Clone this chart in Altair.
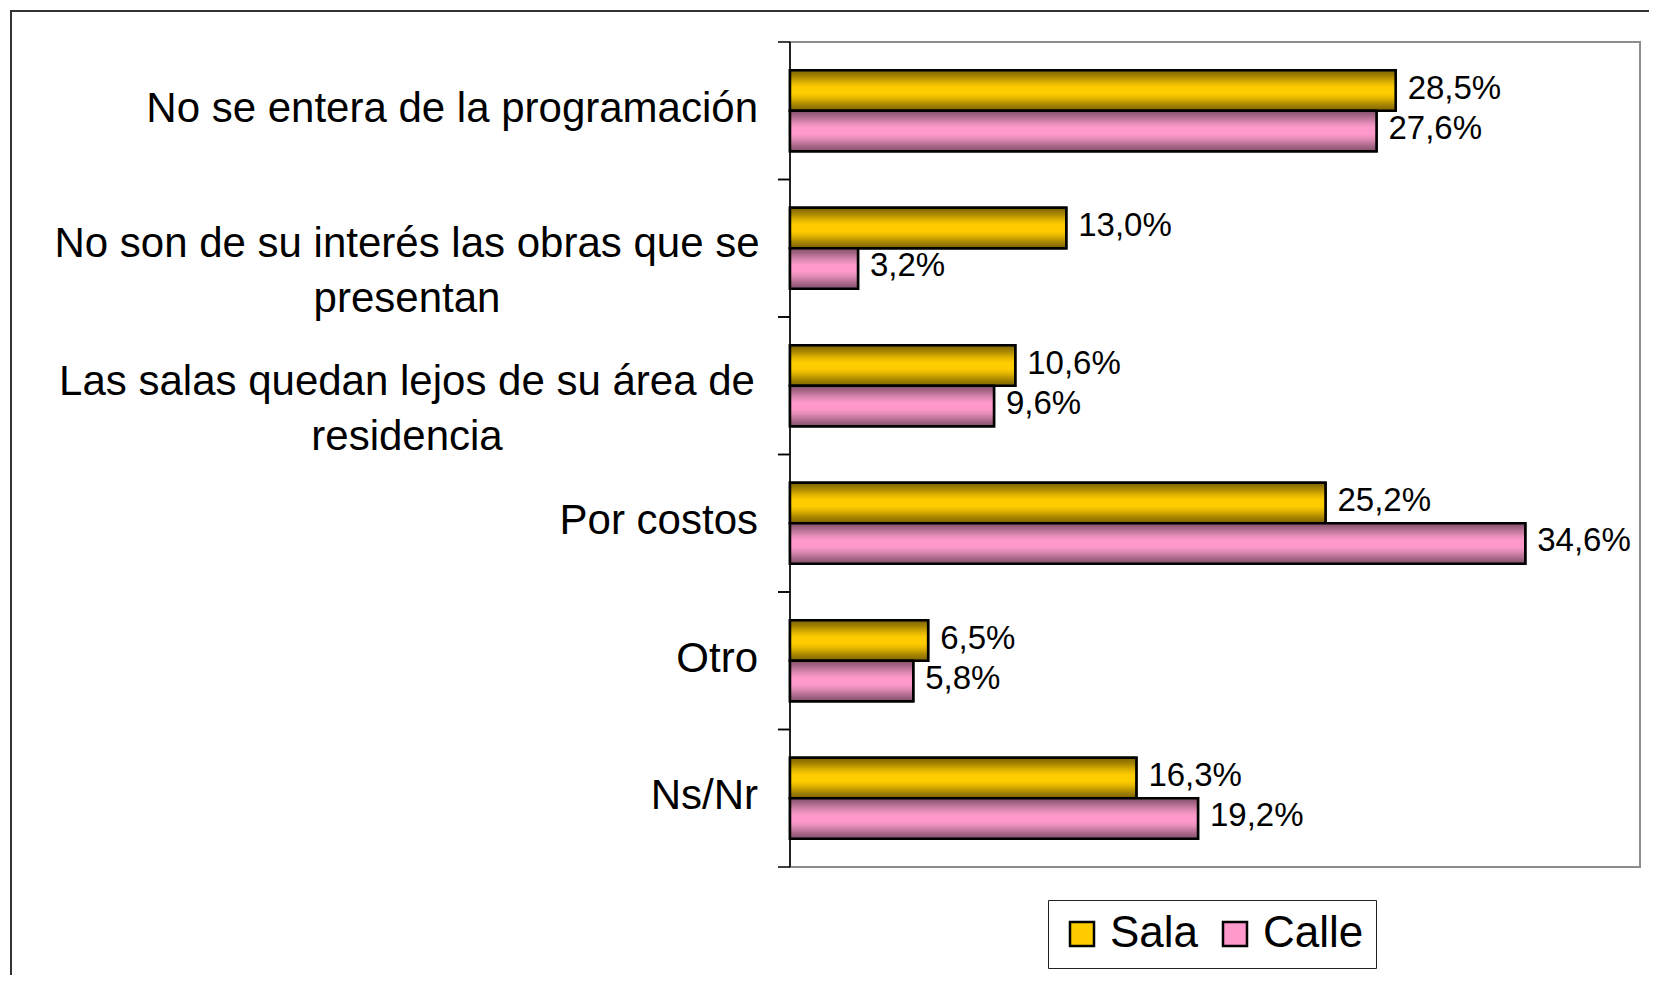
import altair as alt
import pandas as pd

categories = [
    "No se entera de la programación",
    "No son de su interés las obras que se\npresentan",
    "Las salas quedan lejos de su área de\nresidencia",
    "Por costos",
    "Otro",
    "Ns/Nr",
]
series = ["Sala", "Calle"]
sala = [28.5, 13.0, 10.6, 25.2, 6.5, 16.3]
calle = [27.6, 3.2, 9.6, 34.6, 5.8, 19.2]

rows = []
for c, s, k in zip(categories, sala, calle):
    rows.append({"cat": c, "serie": "Sala", "v": s})
    rows.append({"cat": c, "serie": "Calle", "v": k})
df = pd.DataFrame(rows)

FONT = "Liberation Sans, Arial, sans-serif"

grad_sala = alt.LinearGradient(
    gradient="linear", x1=0, x2=0, y1=0, y2=1,
    stops=[
        alt.GradientStop(offset=0.0, color="#7a6200"),
        alt.GradientStop(offset=0.15, color="#a88600"),
        alt.GradientStop(offset=0.3, color="#e0b300"),
        alt.GradientStop(offset=0.42, color="#ffcc00"),
        alt.GradientStop(offset=0.58, color="#ffcc00"),
        alt.GradientStop(offset=0.7, color="#e0b300"),
        alt.GradientStop(offset=0.85, color="#a88600"),
        alt.GradientStop(offset=1.0, color="#7a6200"),
    ],
)
grad_calle = alt.LinearGradient(
    gradient="linear", x1=0, x2=0, y1=0, y2=1,
    stops=[
        alt.GradientStop(offset=0.0, color="#80506a"),
        alt.GradientStop(offset=0.15, color="#b06b8d"),
        alt.GradientStop(offset=0.3, color="#e08bb5"),
        alt.GradientStop(offset=0.42, color="#ff99cc"),
        alt.GradientStop(offset=0.58, color="#ff99cc"),
        alt.GradientStop(offset=0.7, color="#e08bb5"),
        alt.GradientStop(offset=0.85, color="#b06b8d"),
        alt.GradientStop(offset=1.0, color="#80506a"),
    ],
)

x_enc = alt.X("v:Q", scale=alt.Scale(domain=[0, 40], nice=False, zero=True), axis=None)
y_scale = alt.Scale(paddingInner=0, paddingOuter=0)
yoff_enc = alt.YOffset("serie:N", scale=alt.Scale(domain=series, paddingInner=0, paddingOuter=0.7))
y_enc = alt.Y("cat:N", sort=categories, scale=y_scale, axis=None)

base = alt.Chart(df)

frame = alt.Chart(alt.Data(values=[{"f": 1}])).mark_rect(
    fill=None, stroke="#333333", strokeWidth=2
).encode(
    x=alt.value(-779), x2=alt.value(900), y=alt.value(-31), y2=alt.value(1000)
)

solid = base.mark_bar(stroke="black", strokeWidth=2.5).encode(
    x=x_enc,
    y=y_enc,
    yOffset=yoff_enc,
    color=alt.Color(
        "serie:N",
        scale=alt.Scale(domain=series, range=["#FFCC00", "#FF99CC"]),
        legend=alt.Legend(
            title=None,
            orient="none",
            legendX=258,
            legendY=858,
            direction="horizontal",
            symbolType="square",
            symbolSize=576,
            symbolStrokeColor="black",
            symbolStrokeWidth=2.5,
            labelFont=FONT,
            labelFontSize=44,
            labelColor="black",
            labelOffset=6,
            columnPadding=14,
            padding=12,
            strokeColor="#222222",
            fillColor="white",
        ),
    ),
)

def grad_layer(name, grad):
    return base.transform_filter(alt.datum.serie == name).mark_bar(
        fill=grad, stroke="black", strokeWidth=2.5
    ).encode(
        x=x_enc,
        y=y_enc,
        yOffset=yoff_enc,
    )

labels = base.transform_calculate(
    lbl="replace(format(datum.v, '.1f'), '.', ',') + '%'"
).mark_text(
    align="left", baseline="middle", dx=12, dy=-2, font=FONT, fontSize=33, color="black"
).encode(
    x=x_enc,
    y=y_enc,
    yOffset=yoff_enc,
    text="lbl:N",
)

# category axis drawn as marks: domain line, band-edge ticks, labels
one_per_cat = base.transform_filter(alt.datum.serie == "Sala")

axis_line = alt.Chart(alt.Data(values=[{"f": 1}])).mark_rule(
    color="black", strokeWidth=1.5
).encode(x=alt.value(0), y=alt.value(0), y2=alt.value(825))

ticks_top = one_per_cat.mark_rule(color="black", strokeWidth=1.5).encode(
    y=alt.Y("cat:N", sort=categories, scale=y_scale, axis=None, bandPosition=0),
    x=alt.value(-12), x2=alt.value(0),
)
ticks_bottom = one_per_cat.mark_rule(color="black", strokeWidth=1.5).encode(
    y=alt.Y("cat:N", sort=categories, scale=y_scale, axis=None, bandPosition=1),
    x=alt.value(-12), x2=alt.value(0),
)

cat_single = one_per_cat.transform_filter(
    "indexof(datum.cat, '\\n') < 0"
).mark_text(
    align="right", baseline="middle", dy=-2, font=FONT, fontSize=42, color="black"
).encode(y=y_enc, x=alt.value(-32), text="cat:N")

cat_multi = one_per_cat.transform_filter(
    "indexof(datum.cat, '\\n') >= 0"
).mark_text(
    align="center", baseline="middle", dy=-4, font=FONT, fontSize=42, color="black",
    lineBreak="\n", lineHeight=55,
).encode(y=y_enc, x=alt.value(-383), text="cat:N")

chart = alt.layer(
    frame, solid, grad_layer("Sala", grad_sala), grad_layer("Calle", grad_calle), labels,
    axis_line, ticks_top, ticks_bottom, cat_single, cat_multi,
).properties(
    width=850,
    height=825,
    autosize=alt.AutoSizeParams(type="none"),
    padding={"left": 782, "top": 34, "right": 9, "bottom": 108},
).configure(
    font=FONT, background="white"
).configure_view(
    stroke="#8c8c8c", strokeWidth=2
)

chart.save("out.html", embed_options={"renderer": "svg", "actions": False})
